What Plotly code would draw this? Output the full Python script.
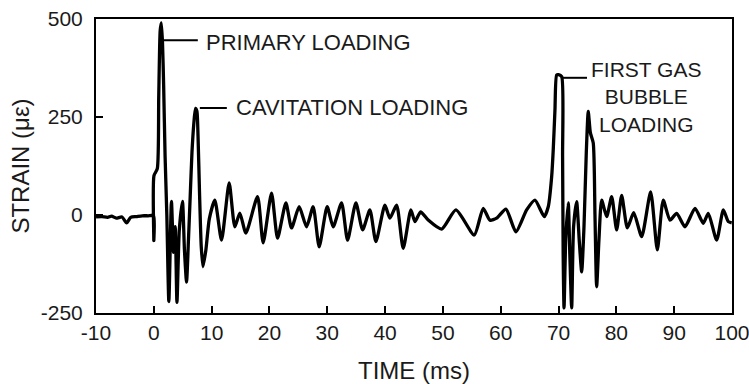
import plotly.graph_objects as go

# Time (ms) and strain (microstrain)
time_ms = [-10, -9, -8, -7.3, -6.5, -5.5, -4.7, -4, -3, -2, -1, -0.05, 0.0, 0.02, 0.6, 0.85, 1.1, 1.3, 1.5, 1.7,
           1.95, 2.25, 2.6, 3.05, 3.4, 3.7, 4.0, 4.4, 4.95, 5.3, 5.66, 6.0, 6.3, 6.6, 6.9, 7.2, 7.45, 7.65, 7.9, 8.2,
           8.5, 9.0, 9.6, 10.55, 11.71, 13.03, 14.01, 14.88, 15.92, 17.94, 18.91, 20.36, 21.40, 22.84, 23.82,
           25.14, 26.42, 27.56, 28.60, 29.98, 31.02, 32.47, 33.51, 34.95, 36.11, 37.37, 38.41, 39.97, 40.83,
           41.99, 43.13, 44.46, 45.16, 46.14, 47.46, 49.78, 52.25, 55.42, 56.97, 58.13, 59.29, 60.90, 62.63,
           64.48, 65.92, 67.53, 68.22, 68.81, 69.08, 69.38, 69.67, 70.0, 70.54, 70.7, 70.8, 70.95, 71.25, 71.68,
           71.95, 72.27, 72.6, 73.13, 73.6, 74.0, 74.4, 74.8, 75.14, 75.5, 76.0, 76.3, 76.59, 77.0, 77.46, 78.32,
           79.19, 80.05, 80.92, 81.9, 83.0, 84.38, 85.93, 87.08, 88.11, 89.27, 90.43, 91.87, 93.60, 95.03, 95.90,
           97.35, 98.50, 99.36, 99.95]
strain_ue = [-5, -4, -6, -3, -8, -5, -20, -6, -4, -2, -2, -2, -65, 100, 118, 300, 470, 490, 440, 330,
             150, 0, -221, 35, -95, -30, -223, -40, 35, -90, -171, -60, 50, 160, 230, 272, 265, 200, 60, -80,
             -132, -90, -10, 38, -64, 82, -30, 5, -46, 47, -71, 56, -59, 31, -33,
             21, -30, 21, -81, 21, -30, 31, -64, 31, -38, 13, -68, 25, -8,
             25, -85, 13, -17, 8, -13, -36, 13, -51, 17, -13, -8, 15, -43,
             13, 38, -4, 21, 98, 166, 268, 357, 358, 353, 150, -100, -237, -60, 31,
             -100, -237, -30, 34, -70, -145, -30, 160, 264, 210, 184, 0, -183, -60, 38, -4,
             47, -38, 50, -33, 6, -55, 59, -89, 38, -13, 4, -30, 17, -21, 4,
             -64, 13, -17, -20]

x_ticks = [-10, 0, 10, 20, 30, 40, 50, 60, 70, 80, 90, 100]
y_ticks = [-250, 0, 250, 500]

FONT = "Liberation Sans, Arial, sans-serif"
INK = "#1a1a1a"

fig = go.Figure()
fig.add_trace(go.Scatter(x=time_ms, y=strain_ue, mode="lines",
                         line=dict(color="black", width=3.3, shape="spline", smoothing=0.6),
                         showlegend=False, hoverinfo="skip"))

# leader lines
leaders = [((1.56, 446), (7.61, 446)), ((7.96, 273), (12.63, 273)), ((70.59, 350), (74.92, 350))]
for (x0, y0), (x1, y1) in leaders:
    fig.add_shape(type="line", x0=x0, y0=y0, x1=x1, y1=y1, xref="x", yref="y",
                  line=dict(color="black", width=2))

fig.add_annotation(x=8.65, y=439, text="PRIMARY LOADING", showarrow=False, xanchor="left",
                   font=dict(family=FONT, size=22, color=INK))
fig.add_annotation(x=13.84, y=275, text="CAVITATION LOADING", showarrow=False, xanchor="left",
                   font=dict(family=FONT, size=22, color=INK))
fig.add_annotation(x=85.2, y=302, text="FIRST GAS<br>BUBBLE<br>LOADING", showarrow=False,
                   xanchor="center", align="center", font=dict(family=FONT, size=21, color=INK))

fig.update_layout(
    width=749, height=384,
    margin=dict(l=96, r=17, t=19, b=71),
    paper_bgcolor="white", plot_bgcolor="white",
    xaxis=dict(range=[-10, 100], tickvals=x_ticks, ticktext=[str(v) for v in x_ticks],
               ticks="inside", ticklen=7, tickwidth=1.5, ticklabeloverflow="allow", automargin=False,
               tickcolor="black", showline=True, linewidth=2, linecolor="black", mirror=True,
               showgrid=False, zeroline=False, ticklabelstandoff=0,
               tickfont=dict(family=FONT, size=21, color=INK),
               title=dict(text="TIME (ms)", font=dict(family=FONT, size=24, color=INK), standoff=20)),
    yaxis=dict(range=[-250, 500], tickvals=y_ticks, ticktext=[str(v) for v in y_ticks],
               ticks="inside", ticklen=7, tickwidth=1.5, ticklabeloverflow="allow", automargin=False,
               tickcolor="black", showline=True, linewidth=2, linecolor="black", mirror=True,
               showgrid=False, zeroline=False, ticklabelstandoff=7,
               tickfont=dict(family=FONT, size=21, color=INK),
               title=dict(text="STRAIN (με)", font=dict(family=FONT, size=24, color=INK), standoff=4)),
)

fig.write_html("out.html")
